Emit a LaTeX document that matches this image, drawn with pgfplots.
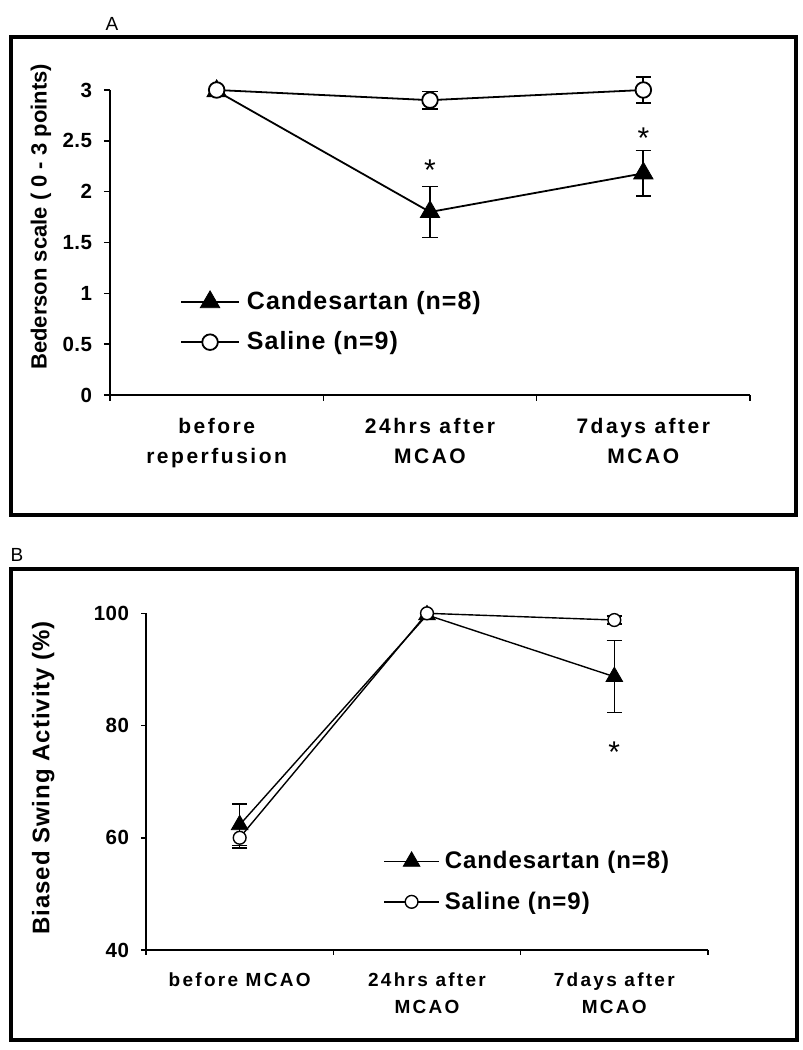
\documentclass[border=0pt]{standalone}
\usepackage{fontspec}
\setmainfont{Liberation Sans}
\newfontfamily\catfont{Liberation Sans}[LetterSpace=12]
\newfontfamily\legfont{Liberation Sans}[LetterSpace=4]
\newfontfamily\tickfont{Liberation Sans}[LetterSpace=2]
\usepackage{pgfplots}
\pgfplotsset{compat=1.18}
\pgfplotsset{
  myaxis/.style={
    scale only axis, anchor=south west,
    axis x line=bottom, axis y line=left,
    axis line style={-, line width=0.75pt},
    tick align=outside, clip=false, enlargelimits=false,
    xmin=-0.5, xmax=2.5,
    xtick={-0.5,0.5,1.5,2.5}, xticklabels={},
    extra x ticks={0,1,2},
    major tick style={line width=0.75pt, black},
    major tick length=3pt,
    /pgf/number format/assume math mode=true,
    y tick label style={font=\tickfont\bfseries\fontsize{10.25}{12}\selectfont, xshift=-2.5pt},
    legend cell align=left,
  },
  ebar/.style={only marks, mark=none, forget plot, black,
    error bars/.cd, y dir=both, y explicit,
    error bar style={line width=#1},
    error mark options={rotate=90, mark size=3.8pt, line width=#1}},
}
\begin{document}
\begin{tikzpicture}
\useasboundingbox (0pt,0pt) rectangle (401.5pt,525pt);
\draw[line width=1.6pt] (5.5pt,506.5pt) rectangle (398pt,267.5pt);
\draw[line width=1.6pt] (5.5pt,240.5pt) rectangle (398.5pt,5pt);
\node at (56pt,513pt) {\fontsize{9.5}{11}\selectfont A};
\node at (8.5pt,247.5pt) {\fontsize{9.5}{11}\selectfont B};

% ---------------- Panel A ----------------
\begin{axis}[myaxis, at={(55pt,327.5pt)}, width=320pt, height=152.5pt,
  ymin=0, ymax=3, ytick={0,0.5,1,1.5,2,2.5,3},
  extra x tick labels={before\\reperfusion, 24hrs after\\MCAO, 7days after\\MCAO},
  extra x tick style={major tick length=0pt,
    tick label style={font=\catfont\bfseries\fontsize{10.5}{15}\selectfont, align=center, inner sep=0pt, yshift=-11.5pt}},
  ylabel={Bederson scale ( 0 - 3 points)},
  ylabel style={at={(axis description cs:-0.108,0.584)}, anchor=center, font=\bfseries\fontsize{11}{13}\selectfont},
  legend image code/.code={\draw[mark repeat=2,mark phase=2] plot coordinates {(0pt,0pt)(14.5pt,0pt)(29pt,0pt)};},
  legend style={at={(axis description cs:0.109,0.24)}, anchor=west, draw=none, fill=none,
    inner sep=0pt, row sep=9.5pt, column sep=3.5pt,
    font=\legfont\bfseries\fontsize{12.5}{14}\selectfont, nodes={inner sep=0pt}},
]
\addplot[ebar=0.9pt] table[x=x,y=y,y error=e] {
x y e
1 1.80 0.25
2 2.18 0.225
};
\addplot[black, line width=0.9pt, mark=triangle*, mark size=5.6pt, mark options={fill=black, line width=0.4pt}] table[x=x,y=y] {
x y
0 2.99
1 1.80
2 2.18
};
\addlegendentry{Candesartan (n=8)}
\addplot[ebar=0.9pt] table[x=x,y=y,y error=e] {
x y e
1 2.90 0.085
2 3.00 0.125
};
\addplot[black, line width=0.9pt, mark=*, mark size=3.9pt, mark options={fill=white, line width=0.9pt}] table[x=x,y=y] {
x y
0 3.00
1 2.90
2 3.00
};
\addlegendentry{Saline (n=9)}
\node[anchor=base, font=\fontsize{15}{17}\selectfont] at (axis cs:1,2.11) {*};
\node[anchor=base, font=\fontsize{15}{17}\selectfont] at (axis cs:2,2.42) {*};
\end{axis}

% ---------------- Panel B ----------------
\begin{axis}[myaxis, at={(73pt,50pt)}, width=281pt, height=168.35pt,
  ymin=40, ymax=100, ytick={40,60,80,100},
  major tick length=2.5pt,
  extra x tick labels={before MCAO, 24hrs after\\MCAO, 7days after\\MCAO},
  extra x tick style={major tick length=0pt,
    tick label style={font=\catfont\bfseries\fontsize{9.5}{13.5}\selectfont, align=center, inner sep=0pt, yshift=-11pt}},
  ylabel={Biased Swing Activity (\%)},
  ylabel style={at={(axis description cs:-0.183,0.511)}, anchor=center, font=\legfont\bfseries\fontsize{12}{14}\selectfont},
  legend image code/.code={\draw[mark repeat=2,mark phase=2] plot coordinates {(0pt,0pt)(13.75pt,0pt)(27.5pt,0pt)};},
  legend style={at={(axis description cs:0.4217,0.203)}, anchor=west, draw=none, fill=none,
    inner sep=0pt, row sep=10pt, column sep=2.5pt,
    font=\legfont\bfseries\fontsize{12}{14}\selectfont, nodes={inner sep=0pt}},
]
\addplot[ebar=0.7pt] table[x=x,y=y,y error=e] {
x y e
0 62.3 3.7
2 88.7 6.4
};
\addplot[black, line width=0.7pt, mark=triangle*, mark size=4.8pt, mark options={fill=black, line width=0.4pt}] table[x=x,y=y] {
x y
0 62.3
1 99.7
2 88.7
};
\addlegendentry{Candesartan (n=8)}
\addplot[ebar=0.7pt] table[x=x,y=y,y error=e] {
x y e
0 60.0 1.8
2 98.8 0.7
};
\addplot[black, line width=0.7pt, mark=*, mark size=3.2pt, mark options={fill=white, line width=0.7pt}] table[x=x,y=y] {
x y
0 60.0
1 100.0
2 98.8
};
\addlegendentry{Saline (n=9)}
\node[anchor=base, font=\fontsize{15}{17}\selectfont] at (axis cs:2,73.4) {*};
\end{axis}
\end{tikzpicture}
\end{document}
